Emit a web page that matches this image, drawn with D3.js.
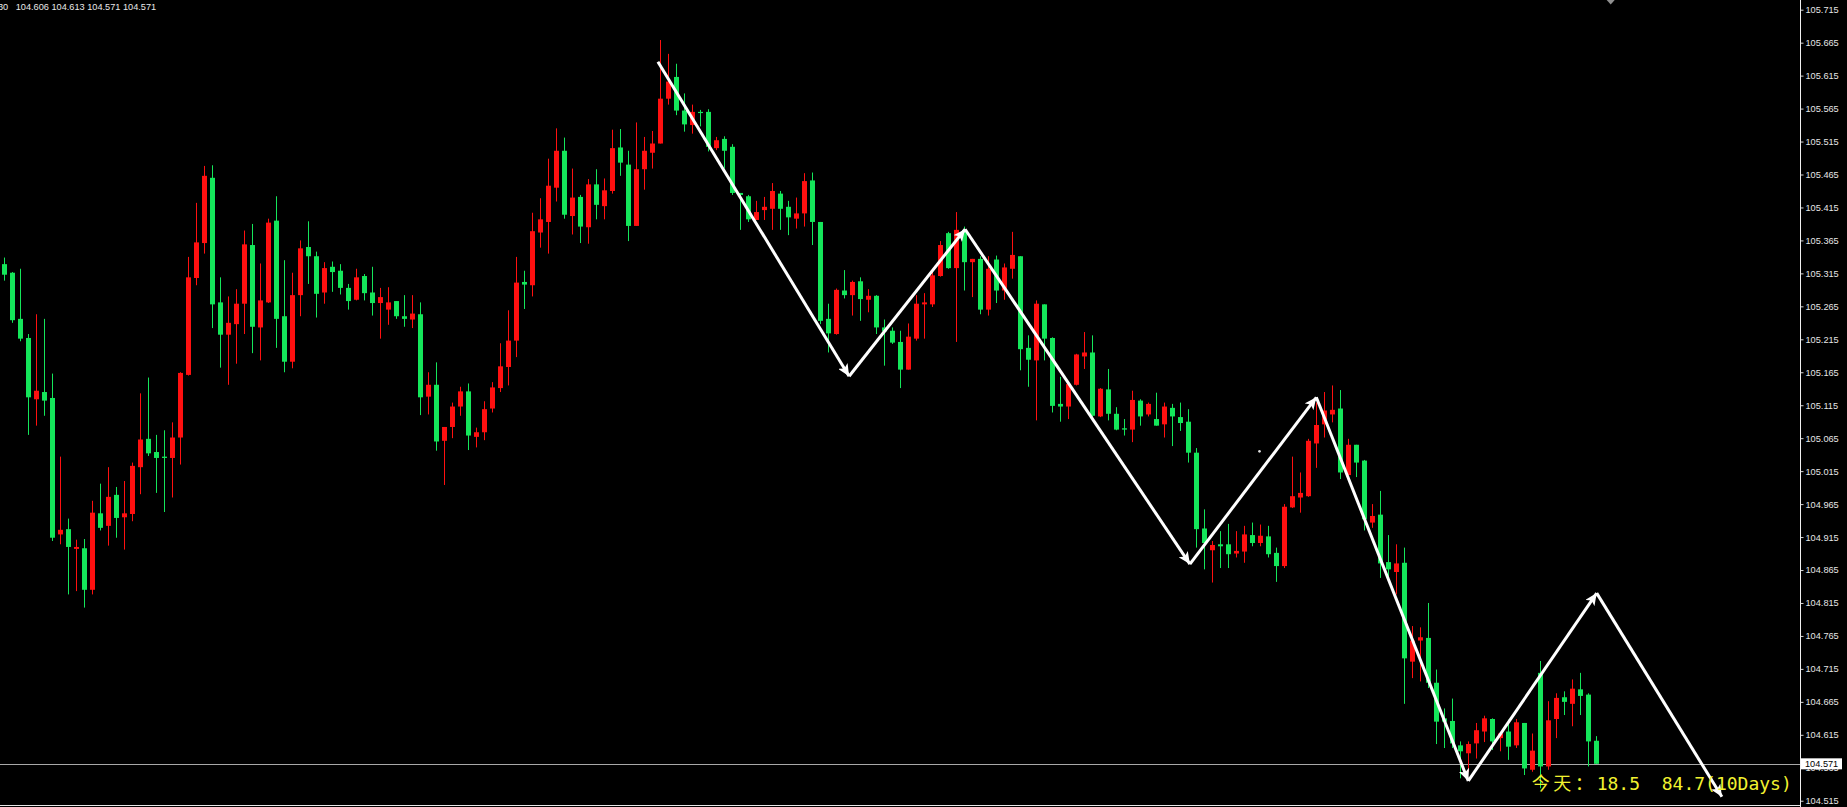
<!DOCTYPE html>
<html>
<head>
<meta charset="utf-8">
<script src="https://cdn.jsdelivr.net/npm/d3@7"></script>
<style>
html,body{margin:0;padding:0;background:#000;overflow:hidden}
svg{display:block}
</style>
</head>
<body>
<script>
// ---------- DATA (30-minute bars) ----------
const opens = [
105.329,105.316,105.246,105.217,105.124,105.135,105.126,104.919,104.927,104.897,
104.898,104.835,104.951,104.932,104.979,104.945,104.950,105.021,105.064,105.044,
105.037,105.035,105.066,105.161,105.308,105.361,105.460,105.271,105.222,105.238,
105.269,105.358,105.233,105.271,105.395,105.250,105.181,105.282,105.355,105.341,
105.286,105.325,105.319,105.293,105.275,105.311,105.286,105.270,105.260,105.273,
105.250,105.245,105.253,105.128,105.146,105.061,105.082,105.113,105.136,105.067,
105.074,105.110,105.141,105.173,105.213,105.302,105.297,105.377,105.393,105.445,
105.501,105.402,105.431,105.385,105.450,105.417,105.440,105.506,105.480,105.387,
105.473,105.498,105.512,105.580,105.613,105.562,105.540,105.560,105.560,105.505,
105.519,105.507,105.437,105.432,105.396,105.411,105.413,105.436,105.416,105.398,
105.406,105.456,105.393,105.246,105.223,105.289,105.282,105.303,105.275,105.281,
105.233,105.228,105.211,105.169,105.216,105.268,105.268,105.311,105.376,105.323,
105.381,105.332,105.337,105.260,105.336,105.289,105.322,105.341,105.202,105.183,
105.268,105.217,105.117,105.113,105.146,105.189,105.195,105.098,105.139,105.102,
105.080,105.078,105.122,105.101,105.094,105.086,105.111,105.097,105.090,105.043,
104.928,104.895,104.904,104.904,104.890,104.893,104.918,104.906,104.916,104.891,
104.871,104.960,104.975,104.977,105.057,105.086,105.101,105.110,105.009,105.055,
105.031,104.937,104.949,104.877,104.862,104.876,104.726,104.758,104.762,104.694,
104.640,104.636,104.599,104.587,104.602,104.620,104.639,104.610,104.620,104.599,
104.633,104.562,104.709,104.567,104.639,104.672,104.662,104.684,104.676,104.606
];
const highs = [
105.339,105.317,105.322,105.223,105.253,105.246,105.163,105.037,104.943,104.911,
104.912,104.970,104.996,105.021,104.991,105.000,105.028,105.133,105.157,105.070,
105.077,105.089,105.165,105.340,105.422,105.478,105.479,105.309,105.280,105.291,
105.380,105.390,105.330,105.398,105.432,105.335,105.316,105.365,105.394,105.348,
105.332,105.333,105.329,105.299,105.322,105.314,105.325,105.293,105.294,105.273,
105.282,105.282,105.271,105.165,105.180,105.082,105.119,105.143,105.148,105.081,
105.121,105.150,105.209,105.259,105.340,105.319,105.407,105.429,105.489,105.535,
105.521,105.474,105.434,105.458,105.473,105.459,105.533,105.534,105.501,105.544,
105.522,105.531,105.669,105.648,105.633,105.588,105.571,105.563,105.564,105.522,
105.523,105.511,105.437,105.434,105.425,105.431,105.452,105.440,105.425,105.430,
105.467,105.468,105.393,105.269,105.292,105.320,105.304,105.309,105.291,105.282,
105.245,105.233,105.228,105.239,105.282,105.285,105.320,105.364,105.378,105.408,
105.386,105.337,105.341,105.341,105.342,105.330,105.378,105.341,105.221,105.274,
105.268,105.218,105.158,105.148,105.193,105.226,105.221,105.141,105.170,105.112,
105.094,105.137,105.124,105.119,105.134,105.119,105.117,105.119,105.109,105.050,
104.957,104.909,104.924,104.935,104.924,104.932,104.937,104.934,104.932,104.899,
104.965,105.037,105.013,105.064,105.119,105.135,105.145,105.138,105.064,105.055,
105.032,104.965,104.985,104.918,104.904,104.899,104.780,104.778,104.815,104.714,
104.655,104.670,104.605,104.605,104.633,104.644,104.640,104.618,104.638,104.639,
104.633,104.617,104.727,104.666,104.678,104.681,104.699,104.709,104.678,104.613
];
const lows = [
105.304,105.240,105.212,105.070,105.084,105.099,104.909,104.904,104.828,104.833,
104.808,104.828,104.925,104.902,104.914,104.896,104.939,104.980,105.038,104.982,
104.953,104.975,105.025,105.160,105.297,105.345,105.232,105.172,105.146,105.178,
105.223,105.194,105.183,105.270,105.202,105.165,105.171,105.250,105.299,105.248,
105.269,105.287,105.283,105.260,105.274,105.274,105.251,105.216,105.237,105.246,
105.234,105.232,105.100,105.101,105.046,104.994,105.065,105.099,105.047,105.051,
105.062,105.104,105.135,105.145,105.188,105.261,105.280,105.354,105.345,105.424,
105.398,105.374,105.361,105.360,105.397,105.397,105.436,105.463,105.364,105.387,
105.442,105.474,105.512,105.571,105.555,105.530,105.527,105.538,105.500,105.502,
105.474,105.434,105.381,105.393,105.396,105.396,105.381,105.381,105.373,105.383,
105.386,105.358,105.238,105.195,105.222,105.277,105.251,105.243,105.256,105.223,
105.175,105.208,105.141,105.169,105.213,105.216,105.264,105.310,105.322,105.211,
105.289,105.279,105.253,105.251,105.270,105.275,105.307,105.168,105.143,105.092,
105.183,105.104,105.090,105.094,105.145,105.170,105.097,105.097,105.092,105.077,
105.069,105.059,105.084,105.098,105.084,105.066,105.053,105.076,105.028,104.899,
104.866,104.846,104.868,104.868,104.884,104.876,104.901,104.901,104.884,104.847,
104.868,104.959,104.952,104.976,105.020,105.066,105.089,105.003,105.009,105.006,
104.925,104.929,104.853,104.853,104.828,104.662,104.701,104.696,104.686,104.601,
104.595,104.595,104.549,104.559,104.579,104.604,104.592,104.590,104.577,104.595,
104.554,104.559,104.534,104.562,104.610,104.645,104.628,104.645,104.567,104.571
];
const closes = [
105.313,105.244,105.216,105.127,105.137,105.122,104.914,104.926,104.900,104.900,
104.835,104.952,104.929,104.976,104.944,104.951,105.023,105.063,105.042,105.035,
105.035,105.066,105.164,105.309,105.362,105.463,105.268,105.222,105.240,105.269,
105.359,105.234,105.274,105.392,105.246,105.181,105.282,105.353,105.341,105.284,
105.323,105.317,105.293,105.273,105.309,105.285,105.270,105.279,105.271,105.250,
105.246,105.254,105.127,105.146,105.060,105.082,105.113,105.136,105.069,105.074,
105.109,105.142,105.174,105.213,105.301,105.298,105.379,105.397,105.448,105.501,
105.404,105.430,105.386,105.450,105.419,105.441,105.505,105.483,105.387,105.473,
105.501,105.512,105.580,105.606,105.562,105.541,105.560,105.559,105.507,105.517,
105.501,105.437,105.434,105.397,105.408,105.416,105.440,105.413,105.400,105.406,
105.455,105.393,105.243,105.224,105.290,105.282,105.302,105.276,105.281,105.233,
105.227,105.210,105.169,105.219,105.269,105.271,105.312,105.358,105.323,105.381,
105.332,105.337,105.260,105.322,105.289,105.324,105.343,105.200,105.184,105.269,
105.216,105.114,105.113,105.147,105.192,105.195,105.099,105.140,105.102,105.078,
105.078,105.123,105.098,105.117,105.084,105.113,105.098,105.088,105.043,104.927,
104.906,104.903,104.901,104.889,104.894,104.919,104.906,104.917,104.889,104.871,
104.961,104.977,104.982,105.061,105.085,105.107,105.108,105.013,105.055,105.028,
104.942,104.947,104.875,104.866,104.875,104.731,104.758,104.763,104.694,104.635,
104.635,104.602,104.590,104.601,104.622,104.640,104.605,104.617,104.597,104.634,
104.564,104.591,104.567,104.637,104.671,104.665,104.685,104.674,104.605,104.571
];

// price axis tick labels
const yTickValues = [
104.515,104.565,104.615,104.665,104.715,104.765,104.815,104.865,104.915,104.965,
105.015,105.065,105.115,105.165,105.215,105.265,105.315,105.365,105.415,105.465,
105.515,105.565,105.615,105.665,105.715
];

// header (last bar O H L C) and current price
const headerPrefix = "30";
const headerValues = ["104.606","104.613","104.571","104.571"];
const currentPrice = 104.571;

// zig-zag arrows: bar position and price of each vertex
const zigzagBars   = [81.7, 105.6, 120.1, 148.2, 164.0, 183.0, 199.05, 214.7];
const zigzagPrices = [105.636, 105.159, 105.382, 104.874, 105.127, 104.545, 104.830, 104.521];

// small stray point object
const dotBars = [156.9];
const dotPrices = [105.045];

// statistics text
const statLabel = "今天：";
const statToday = "18.5";
const statTenDays = "84.7";
const statSuffix = "(10Days)";

// ---------- DRAWING ----------
const W = 1847, H = 807;
const axisX = 1800;
const upColor = "#ff1010";
const downColor = "#14e65a";

const svg = d3.select("body").append("svg")
  .attr("width", W).attr("height", H);

svg.append("rect").attr("width", W).attr("height", H).attr("fill", "#000");

const x = d3.scaleLinear().domain([0, opens.length - 1]).range([4.3, 4.3 + 8 * (opens.length - 1)]);
const y = d3.scaleLinear().domain([104.515, 105.715]).range([9.7 + 1.2 * 659.2, 9.7]);

const bars = opens.map((o, i) => ({ i, o, h: highs[i], l: lows[i], c: closes[i] }));

// current price line
const cpY = Math.round(y(currentPrice)) + 0.5;
svg.append("line")
  .attr("x1", 0).attr("x2", axisX)
  .attr("y1", cpY).attr("y2", cpY)
  .attr("stroke", "#a8a8a8").attr("stroke-width", 1);

// candles
const cg = svg.append("g");
const candle = cg.selectAll("g.c").data(bars).join("g").attr("class", "c");
candle.append("line")
  .attr("x1", d => Math.round(x(d.i)) + 0.5)
  .attr("x2", d => Math.round(x(d.i)) + 0.5)
  .attr("y1", d => y(d.h))
  .attr("y2", d => y(d.l))
  .attr("stroke", d => d.c >= d.o ? upColor : downColor)
  .attr("stroke-width", 1);
candle.append("rect")
  .attr("x", d => Math.round(x(d.i)) - 2)
  .attr("width", 5)
  .attr("y", d => y(Math.max(d.o, d.c)))
  .attr("height", d => Math.max(1.2, Math.abs(y(d.o) - y(d.c))))
  .attr("fill", d => d.c >= d.o ? upColor : downColor);

// zig-zag arrows
const defs = svg.append("defs");
defs.append("marker")
  .attr("id", "arrowHead")
  .attr("markerUnits", "userSpaceOnUse")
  .attr("markerWidth", 13).attr("markerHeight", 11)
  .attr("refX", 12).attr("refY", 5.5)
  .attr("orient", "auto")
  .append("path")
  .attr("d", "M0,0 L12,5.5 L0,11 L3,5.5 Z")
  .attr("fill", "#ffffff");

const zz = zigzagBars.map((b, k) => ({ b, p: zigzagPrices[k] }));
const segs = d3.pairs(zz);
svg.append("g").selectAll("line").data(segs).join("line")
  .attr("x1", d => x(d[0].b)).attr("y1", d => y(d[0].p))
  .attr("x2", d => x(d[1].b)).attr("y2", d => y(d[1].p))
  .attr("stroke", "#ffffff").attr("stroke-width", 3)
  .attr("marker-end", "url(#arrowHead)");

svg.append("g").selectAll("circle").data(dotBars.map((b, k) => ({ b, p: dotPrices[k] })))
  .join("circle")
  .attr("cx", d => x(d.b)).attr("cy", d => y(d.p)).attr("r", 1.3)
  .attr("fill", "#e0e0e0");

// bottom border
svg.append("line")
  .attr("x1", 0).attr("x2", axisX)
  .attr("y1", 805.5).attr("y2", 805.5)
  .attr("stroke", "#e8e8e8").attr("stroke-width", 1);

// price axis
const axis = d3.axisRight(y)
  .tickValues(yTickValues)
  .tickFormat(d3.format(".3f"))
  .tickSize(3).tickSizeOuter(0).tickPadding(2);
const ag = svg.append("g").attr("transform", `translate(${axisX + 0.5},0)`).call(axis);
ag.select(".domain").remove();
ag.selectAll(".tick line").attr("stroke", "#d0d0d0");
ag.selectAll(".tick text")
  .attr("fill", "#e6e6e6")
  .attr("font-family", "'Liberation Sans', Arial, sans-serif")
  .attr("font-size", "9.2px");
svg.append("line")
  .attr("x1", axisX + 0.5).attr("x2", axisX + 0.5)
  .attr("y1", 0).attr("y2", H)
  .attr("stroke", "#f0f0f0").attr("stroke-width", 1);

// current price label
const cpg = svg.append("g");
cpg.append("rect")
  .attr("x", axisX + 1).attr("y", y(currentPrice) - 5.5)
  .attr("width", 41).attr("height", 11)
  .attr("fill", "#ffffff");
cpg.append("text")
  .attr("x", axisX + 5).attr("y", y(currentPrice))
  .attr("dy", "0.33em")
  .attr("fill", "#000")
  .attr("font-family", "'Liberation Sans', Arial, sans-serif")
  .attr("font-size", "9.2px")
  .text(d3.format(".3f")(currentPrice));

// chart shift marker (small triangle at top)
const shx = x(opens.length + 0.8);
svg.append("path")
  .attr("d", `M${shx - 4},0 L${shx + 4},0 L${shx},4.5 Z`)
  .attr("fill", "#909090");

// header
svg.append("text")
  .attr("x", -2).attr("y", 9.5)
  .attr("fill", "#e8e8e8")
  .attr("font-family", "'Liberation Sans', Arial, sans-serif")
  .attr("font-size", "9.2px")
  .text(headerPrefix);
svg.append("text")
  .attr("x", 15.7).attr("y", 9.5)
  .attr("fill", "#e8e8e8")
  .attr("font-family", "'Liberation Sans', Arial, sans-serif")
  .attr("font-size", "9.2px")
  .text(headerValues.join(" "));

// statistics text
const statColor = "#f2f230";
svg.append("text")
  .attr("x", 1531.7).attr("y", 790)
  .attr("fill", statColor)
  .attr("font-family", "'Noto Sans CJK SC', sans-serif")
  .attr("font-size", "18px")
  .attr("letter-spacing", "3.6px")
  .text(statLabel);
svg.append("text")
  .attr("x", 1596.7).attr("y", 790)
  .attr("fill", statColor)
  .attr("font-family", "'DejaVu Sans Mono', 'Liberation Mono', monospace")
  .attr("font-size", "18px")
  .style("white-space", "pre")
  .text(statToday + "  " + statTenDays + statSuffix);
</script>
</body>
</html>
